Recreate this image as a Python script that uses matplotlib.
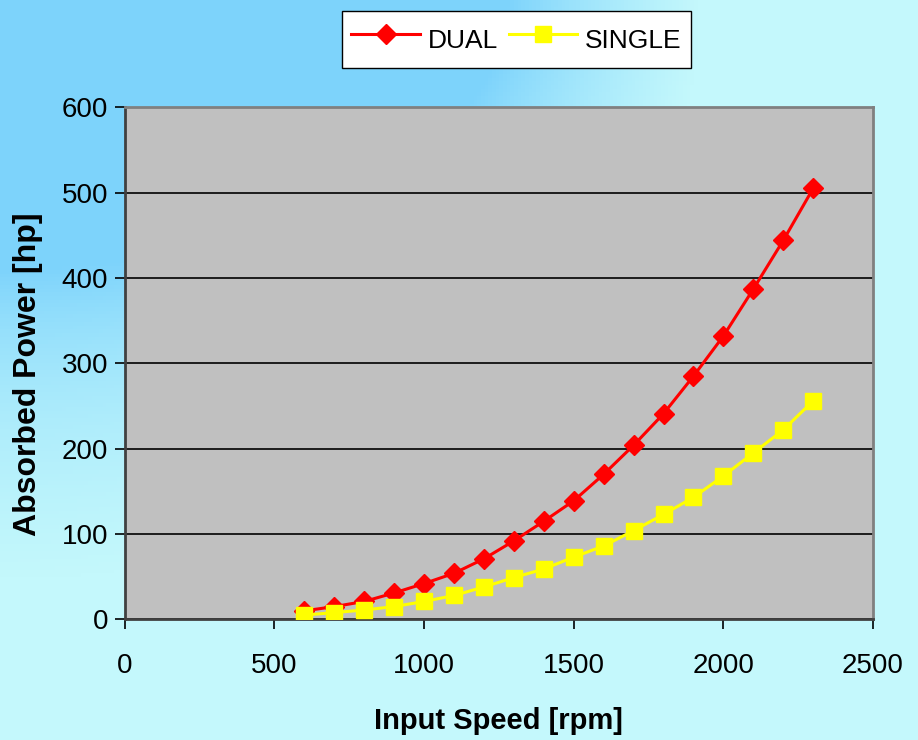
import numpy as np
import matplotlib
matplotlib.use("Agg")
import matplotlib.pyplot as plt

# Absorbed power vs input speed, dual and single
speed = [600, 700, 800, 900, 1000, 1100, 1200, 1300, 1400,
         1500, 1600, 1700, 1800, 1900, 2000, 2100, 2200, 2300]
dual = [10, 15, 21, 31, 42, 54, 71, 92, 115,
        139, 170, 204, 241, 285, 332, 387, 444, 505]
single = [5, 8, 11, 15, 21, 28, 38, 49, 59,
          73, 86, 104, 123, 143, 168, 195, 222, 256]

x_ticks = [0, 500, 1000, 1500, 2000, 2500]
y_ticks = [0, 100, 200, 300, 400, 500, 600]

plt.rcParams['font.family'] = ['Liberation Sans', 'DejaVu Sans']

fig = plt.figure(figsize=(9.18, 7.4), dpi=100)

# background gradient, blue top-left to pale cyan
bg = fig.add_axes([0, 0, 1, 1], zorder=-10)
h, w = 200, 250
yy, xx = np.mgrid[0:h, 0:w]
xf = xx / w
yf = yy / h
u = np.hypot(xf / 0.55, yf / 0.36)   # start of the blend
v = np.hypot(xf / 0.76, yf / 0.78)   # end of the blend
t = np.where(u <= 1, 0.0, np.where(v >= 1, 1.0, (u - 1) / np.maximum((u - 1) + (1 - v), 1e-9)))
c0 = np.array([0x7d, 0xd3, 0xfb]) / 255
c1 = np.array([0xc4, 0xf8, 0xfc]) / 255
img = c0[None, None, :] * (1 - t[..., None]) + c1[None, None, :] * t[..., None]
bg.imshow(img, aspect='auto', extent=[0, 1, 0, 1], origin='upper')
bg.axis('off')

ax = fig.add_axes([0.136, 0.163, 0.815, 0.692])
ax.set_facecolor('#c0c0c0')

ax.plot(speed, dual, color='#ff0000', lw=2.2, marker='D', markersize=10,
        markeredgecolor='#ff0000', label='DUAL', zorder=3)
ax.plot(speed, single, color='#ffff00', lw=2.2, marker='s', markersize=11,
        markeredgecolor='#ffff00', label='SINGLE', zorder=4)

ax.set_xlim(0, 2500)
ax.set_ylim(0, 600)
ax.set_xticks(x_ticks)
ax.set_yticks(y_ticks)
ax.yaxis.grid(True, color='black', lw=1.2)
ax.set_axisbelow(True)

ax.tick_params(axis='x', direction='out', length=7, width=1.2, pad=17,
               labelsize=20, color='black')
ax.tick_params(axis='y', direction='out', length=7, width=1.2, pad=5,
               labelsize=20, color='black')

for side in ['top', 'right']:
    ax.spines[side].set_color('#808080')
    ax.spines[side].set_linewidth(2)
for side in ['left', 'bottom']:
    ax.spines[side].set_color('#404040')
    ax.spines[side].set_linewidth(2)

ax.set_xlabel('Input Speed [rpm]', fontsize=21, fontweight='bold', va='center')
ax.set_ylabel('Absorbed Power [hp]', fontsize=23, fontweight='bold')
ax.xaxis.set_label_coords(0.5, -0.199)
ax.yaxis.set_label_coords(-0.11, 0.478)

fig.legend(loc='center', bbox_to_anchor=(0.5626, 0.9466), ncol=2, fontsize=19,
           frameon=True, fancybox=False, edgecolor='black', framealpha=1,
           handlelength=2.6, handleheight=1.9, columnspacing=0.4,
           handletextpad=0.3, borderpad=0.35, borderaxespad=0,
           markerscale=1.0)

fig.savefig('out.png', dpi=100)
